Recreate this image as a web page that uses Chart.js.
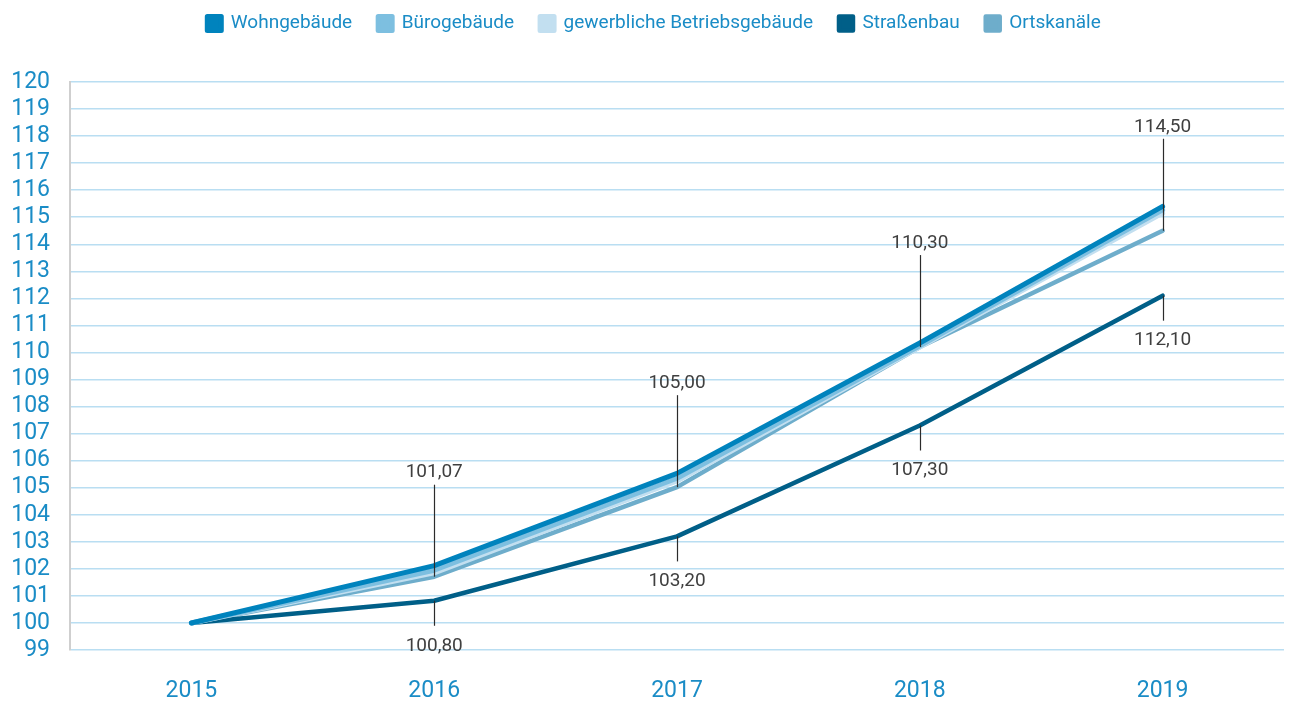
<!DOCTYPE html>
<html>
<head>
<meta charset="utf-8">
<script src="https://cdn.jsdelivr.net/npm/chart.js@4/dist/chart.umd.min.js"></script>
<style>
  html, body { margin: 0; padding: 0; background: #fff; }
  #wrap { width: 1289px; height: 704px; }
</style>
</head>
<body>
<div id="wrap"><canvas id="chart" width="1289" height="704"></canvas></div>
<script>
"use strict";

// ── Daten ──────────────────────────────────────────────
const years = ["2015", "2016", "2017", "2018", "2019"];

const wohngebaeude   = [100, 102.12, 105.53, 110.35, 115.40];
const buerogebaeude  = [100, 101.95, 105.35, 110.25, 115.27];
const gewerbliche    = [100, 101.85, 105.25, 110.20, 115.15];
const strassenbau    = [100, 100.82, 103.20, 107.30, 112.10];
const ortskanaele    = [100, 101.71, 105.02, 110.20, 114.50];

// Beschriftungen (oben: Ortskanäle, unten: Straßenbau)
const labelsAbove = ["", "101,07", "105,00", "110,30", "114,50"];
const labelsBelow = ["", "100,80", "103,20", "107,30", "112,10"];

const yTicks = { min: 99, max: 120, step: 1 };

const BLUE_TEXT = "#1a8cc6";
const FONT = "Roboto, 'DejaVu Sans', sans-serif";

// ── Hilfslinien + Werte ───────────────────────────────
const valueLabels = {
  id: "valueLabels",
  afterDatasetsDraw(chart) {
    const ctx = chart.ctx;
    const above = chart.getDatasetMeta(4).data;
    const below = chart.getDatasetMeta(3).data;
    ctx.save();
    ctx.strokeStyle = "#2b2b2b";
    ctx.lineWidth = 1.2;
    ctx.fillStyle = "#3f3f3f";
    ctx.font = "19px " + FONT;
    ctx.textAlign = "center";
    ctx.textBaseline = "middle";
    labelsAbove.forEach((txt, i) => {
      if (!txt) return;
      const p = above[i];
      ctx.beginPath();
      ctx.moveTo(Math.round(p.x) + 0.5, p.y - 92);
      ctx.lineTo(Math.round(p.x) + 0.5, p.y);
      ctx.stroke();
      ctx.fillText(txt, p.x, p.y - 104);
    });
    labelsBelow.forEach((txt, i) => {
      if (!txt) return;
      const p = below[i];
      ctx.beginPath();
      ctx.moveTo(Math.round(p.x) + 0.5, p.y);
      ctx.lineTo(Math.round(p.x) + 0.5, p.y + 25);
      ctx.stroke();
      ctx.fillText(txt, p.x, p.y + 45);
    });
    ctx.restore();
  },
};

// Legendenhöhe fest, Legende etwas nach rechts
const legendBox = {
  id: "legendBox",
  beforeInit(chart) {
    const fit = chart.legend.fit;
    chart.legend.fit = function () {
      fit.bind(chart.legend)();
      this.height = 94;
    };
  },
  afterLayout(chart) {
    chart.legend.left += 12;
    chart.legend.right += 12;
  },
};

function line(label, data, color, width) {
  return {
    label,
    data,
    borderColor: color,
    backgroundColor: color,
    borderWidth: width,
    borderCapStyle: "round",
    borderJoinStyle: "round",
    pointRadius: 0,
    tension: 0,
    fill: false,
  };
}

new Chart(document.getElementById("chart"), {
  type: "line",
  data: {
    labels: years,
    datasets: [
      line("Wohngebäude", wohngebaeude, "#0083bd", 5),
      line("Bürogebäude", buerogebaeude, "#7dbfe0", 5),
      line("gewerbliche Betriebsgebäude", gewerbliche, "#c2dff0", 5),
      line("Straßenbau", strassenbau, "#005f88", 4.5),
      line("Ortskanäle", ortskanaele, "#6eadcb", 4.5),
    ],
  },
  options: {
    responsive: false,
    animation: false,
    layout: { padding: { top: -12, right: 5, left: 0, bottom: 0 } },
    plugins: {
      legend: {
        position: "top",
        align: "center",
        labels: {
          boxWidth: 14,
          boxHeight: 14,
          padding: 26,
          color: BLUE_TEXT,
          font: { family: FONT, size: 19 },
        },
      },
      tooltip: { enabled: false },
    },
    scales: {
      x: {
        offset: true,
        grid: { display: false, drawTicks: false },
        border: { display: false },
        ticks: {
          color: BLUE_TEXT,
          padding: 27,
          font: { family: FONT, size: 23 },
        },
        afterFit(s) { s.height = 54; },
      },
      y: {
        min: yTicks.min,
        max: yTicks.max,
        grid: { color: "#b9def2", lineWidth: 1.5, drawTicks: false },
        border: { display: true, color: "#cfcfcf", width: 2 },
        ticks: {
          stepSize: yTicks.step,
          color: BLUE_TEXT,
          padding: 20,
          font: { family: FONT, size: 23 },
          autoSkip: false,
        },
        afterFit(s) { s.width = 70; },
      },
    },
  },
  plugins: [legendBox, valueLabels],
});
</script>
</body>
</html>
